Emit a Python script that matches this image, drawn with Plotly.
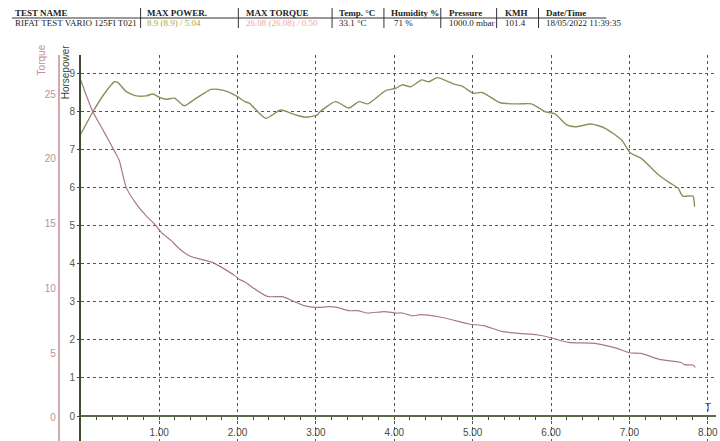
import plotly.graph_objects as go

# Horsepower trace (time in s, hp)
hp_time = [0.0, 0.157, 0.305, 0.43, 0.475, 0.58, 0.71, 0.835, 0.92, 1.005, 1.09, 1.195, 1.32,
           1.45, 1.56, 1.66, 1.75, 1.87, 2.0, 2.09, 2.15, 2.36, 2.55, 2.74, 2.87, 3.02, 3.04,
           3.25, 3.42, 3.55, 3.66, 3.89, 4.02, 4.10, 4.21, 4.35, 4.44, 4.55, 4.76, 4.86, 5.01,
           5.12, 5.35, 5.59, 5.75, 5.92, 6.05, 6.20, 6.31, 6.52, 6.69, 6.90, 7.01, 7.15, 7.37,
           7.52, 7.62, 7.68, 7.81, 7.83]
hp_values = [7.40, 7.99, 8.47, 8.77, 8.75, 8.51, 8.40, 8.40, 8.45, 8.36, 8.31, 8.34, 8.14,
             8.31, 8.45, 8.57, 8.57, 8.51, 8.38, 8.25, 8.21, 7.81, 8.03, 7.90, 7.84, 7.90, 7.96,
             8.25, 8.08, 8.25, 8.19, 8.54, 8.60, 8.69, 8.64, 8.82, 8.77, 8.88, 8.71, 8.66, 8.47,
             8.49, 8.22, 8.19, 8.19, 7.99, 7.93, 7.64, 7.59, 7.66, 7.55, 7.24, 6.91, 6.76, 6.33,
             6.11, 5.98, 5.77, 5.77, 5.49]

# Torque trace (time in s, Nm)
tq_time = [0.0, 0.15, 0.30, 0.43, 0.49, 0.58, 0.71, 0.835, 0.94, 1.03, 1.15, 1.26, 1.39, 1.56,
           1.68, 1.83, 1.96, 2.02, 2.09, 2.19, 2.38, 2.57, 2.70, 2.85, 3.0, 3.17, 3.27, 3.42,
           3.53, 3.66, 3.87, 4.02, 4.10, 4.23, 4.33, 4.57, 4.78, 4.95, 5.14, 5.37, 5.59, 5.82,
           6.01, 6.22, 6.56, 6.82, 7.00, 7.15, 7.38, 7.66, 7.70, 7.81, 7.84]
tq_values = [26.08, 23.7, 22.05, 20.6, 19.9, 17.8, 16.5, 15.6, 14.97, 14.3, 13.7, 13.04, 12.5,
             12.2, 12.0, 11.5, 11.0, 10.7, 10.5, 10.07, 9.37, 9.35, 9.04, 8.66, 8.52, 8.58, 8.52,
             8.27, 8.27, 8.09, 8.2, 8.09, 8.09, 7.88, 7.96, 7.8, 7.5, 7.24, 7.11, 6.67, 6.51,
             6.41, 6.16, 5.82, 5.74, 5.39, 5.02, 4.97, 4.51, 4.27, 4.10, 4.07, 3.89]

x_ticks = [1, 2, 3, 4, 5, 6, 7, 8]
hp_ticks = [0, 1, 2, 3, 4, 5, 6, 7, 8, 9]
tq_ticks = [0, 5, 10, 15, 20, 25]

header_cols = ["TEST NAME", "MAX POWER.", "MAX TORQUE", "Temp. °C", "Humidity %",
               "Pressure", "KMH", "Date/Time"]
header_vals = ["RIFAT TEST VARIO 125FI T021", "8.9 (8.9) / 5.04", "26.08 (26.08) / 0.50",
               "33.1 °C", "71 %", "1000.0 mbar", "101.4", "18/05/2022 11:39:35"]
header_x = [13, 145, 245, 338, 390, 448, 504, 546]
header_val_x = [13, 145, 245, 338, 393, 448, 504, 546]
header_val_colors = ["#222222", "#a8a83a", "#f2a2a2", "#222222", "#222222",
                     "#222222", "#222222", "#222222"]
separators_x = [141, 239, 333, 385, 442, 498, 540]

W, H = 720, 441
TOP, BOT = 55, 0
plot_h = H - TOP - BOT

HP_COLOR = "#8e8e5c"
TQ_COLOR = "#a87888"
GRID = "#555555"

fig = go.Figure()
fig.add_trace(go.Scatter(x=tq_time, y=tq_values, mode="lines", yaxis="y2",
                         line=dict(color=TQ_COLOR, width=1.2, shape="spline", smoothing=0.6),
                         hoverinfo="skip"))
fig.add_trace(go.Scatter(x=hp_time, y=hp_values, mode="lines",
                         line=dict(color=HP_COLOR, width=1.4, shape="spline", smoothing=0.6),
                         hoverinfo="skip"))


def px_to_paper_x(px):
    return px / W


def px_to_paper_y(py):
    return 1 - (py - TOP) / plot_h


fig.update_layout(
    width=W, height=H,
    margin=dict(l=0, r=0, t=TOP, b=BOT),
    paper_bgcolor="white", plot_bgcolor="white",
    showlegend=False,
    font=dict(family="Liberation Sans, Arial, sans-serif", size=10, color="#4a4a3a"),
    xaxis=dict(
        domain=[81 / W, 718 / W],
        range=[0, 637 / 78.6],
        anchor="free",
        position=(H - BOT - 416) / plot_h,
        tickvals=x_ticks, tickformat=".2f",
        showgrid=True, gridcolor=GRID, griddash="dot", gridwidth=1,
        zeroline=False,
        showline=True, linecolor="#5a6a4a", linewidth=1.5,
        ticks="outside", ticklen=3, tickcolor="#4a4a3a",
        ticklabelstandoff=4,
        minor=dict(dtick=0.2, ticks="outside", ticklen=3, tickcolor="#4a4a3a", showgrid=False),
        tickfont=dict(size=10, color="#4a4a3a"),
    ),
    yaxis=dict(
        range=[(416 - (H - BOT)) / 38.11, (416 - TOP) / 38.11],
        tickvals=hp_ticks,
        showgrid=True, gridcolor=GRID, griddash="dot", gridwidth=1,
        zeroline=False,
        showline=True, linecolor="#3e4e30", linewidth=1.5,
        ticks="outside", ticklen=2, tickcolor="#3e4e30",
        ticklabelstandoff=0,
        tickfont=dict(size=10, color="#5a5a48"),
    ),
    yaxis2=dict(
        overlaying="y", side="left", anchor="free", position=59 / W,
        range=[(417.7 - (H - BOT)) / 12.94, (417.7 - TOP) / 12.94],
        tickvals=tq_ticks,
        showgrid=False, zeroline=False,
        showline=True, linecolor="#d0aab2", linewidth=2,
        ticks="", ticklabelstandoff=0,
        tickfont=dict(size=10, color="#c09092"),
    ),
)

# axis captions
fig.add_annotation(text="T", x=8, xref="x", y=px_to_paper_y(415), yref="paper",
                   showarrow=False, font=dict(size=10, color="#4a4a3a"),
                   yanchor="bottom", yshift=0)
fig.add_annotation(text="Torque", textangle=-90, x=px_to_paper_x(42), xref="paper",
                   y=px_to_paper_y(42), yref="paper", yanchor="top", xanchor="center",
                   showarrow=False, font=dict(size=10, color="#c09092"))
fig.add_annotation(text="Horsepower", textangle=-90, x=px_to_paper_x(66), xref="paper",
                   y=px_to_paper_y(42), yref="paper", yanchor="top", xanchor="center",
                   showarrow=False, font=dict(size=10, color="#3a4a2c"))

# header table
for col, xv in zip(header_cols, header_x):
    fig.add_annotation(text=f"<b>{col}</b>", x=px_to_paper_x(xv), xref="paper",
                       y=px_to_paper_y(13), yref="paper", xanchor="left", yanchor="middle",
                       showarrow=False,
                       font=dict(family="Liberation Serif, Times New Roman, serif", size=9,
                                 color="#222222"))
for val, xv, c in zip(header_vals, header_val_x, header_val_colors):
    fig.add_annotation(text=val, x=px_to_paper_x(xv), xref="paper",
                       y=px_to_paper_y(23.5), yref="paper", xanchor="left", yanchor="middle",
                       showarrow=False,
                       font=dict(family="Liberation Serif, Times New Roman, serif", size=9,
                                 color=c))
fig.add_shape(type="line", xref="paper", yref="paper",
              x0=px_to_paper_x(12), x1=px_to_paper_x(608),
              y0=px_to_paper_y(18), y1=px_to_paper_y(18),
              line=dict(color="#333333", width=1))
for sx in separators_x:
    fig.add_shape(type="line", xref="paper", yref="paper",
                  x0=px_to_paper_x(sx), x1=px_to_paper_x(sx),
                  y0=px_to_paper_y(8), y1=px_to_paper_y(28),
                  line=dict(color="#333333", width=1))

fig.write_html("out.html")
